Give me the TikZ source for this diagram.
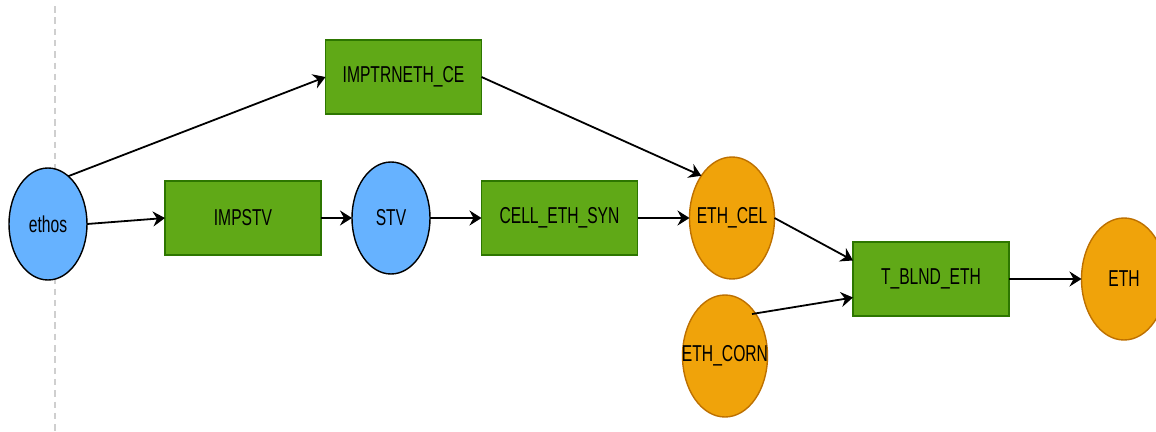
\documentclass[tikz,border=0pt]{standalone}
\usepackage{fontspec}
\setmainfont{Liberation Sans}[FakeStretch=0.68]
\usetikzlibrary{arrows.meta,shapes.geometric,calc}

\definecolor{bluefill}{HTML}{66B2FF}
\definecolor{greenfill}{HTML}{60A917}
\definecolor{greenline}{HTML}{2D7600}
\definecolor{orangefill}{HTML}{F0A30A}
\definecolor{orangeline}{HTML}{BD7000}
\definecolor{guide}{HTML}{CFCFCF}

% ellipse labels take no width, so the ellipse keeps its fixed size
\newcommand{\ovallabel}[1]{\makebox[0pt]{#1}}

\tikzset{
  lbl/.style={font=\fontsize{23}{27}\selectfont, text=black, inner sep=0pt, outer sep=0pt},
  bluenode/.style={lbl, ellipse, draw=black, line width=1.4pt, fill=bluefill,
    minimum width=78pt, minimum height=112pt},
  orangenode/.style={lbl, ellipse, draw=orangeline, line width=1.4pt, fill=orangefill,
    minimum width=85pt, minimum height=122pt},
  procbox/.style={lbl, rectangle, draw=greenline, line width=1.4pt, fill=greenfill,
    minimum width=156pt, minimum height=74pt},
  flow/.style={-{Stealth[length=12pt,width=15pt,inset=4pt]}, line width=1.8pt, black},
  guideline/.style={draw=guide, line width=1.8pt, dash pattern=on 6.5pt off 4.8pt}
}

\begin{document}
\begin{tikzpicture}[x=1pt,y=-1pt]
  \useasboundingbox (0,0) rectangle (1156,431);
  \clip (0,0) rectangle (1156,431);

  % vertical guide
  \coordinate (gtop) at (55,6);
  \coordinate (gbot) at (55,431);
  \draw[guideline] (gtop) -- (gbot);

  % nodes
  \node[bluenode]   (ethos)  at (48,224)    {\ovallabel{ethos}};
  \node[procbox]    (impstv) at (243,218)   {IMPSTV};
  \node[bluenode]   (stv)    at (391,218)   {\ovallabel{STV}};
  \node[procbox]    (cell)   at (559.5,218) {CELL\_ETH\_SYN};
  \node[procbox]    (imptr)  at (403.5,77)  {IMPTRNETH\_CE};
  \node[orangenode] (ethcel) at (732,218)   {\ovallabel{ETH\_CEL}};
  \node[orangenode] (corn)   at (725,356)   {\ovallabel{ETH\_CORN}};
  \node[procbox]    (blnd)   at (931,279)   {T\_BLND\_ETH};
  \node[orangenode] (eth)    at (1124,279)  {\ovallabel{ETH}};

  % connectors
  \draw[flow] (ethos.67) -- (imptr.west);
  \draw[flow] (ethos.east) -- (impstv.west);
  \draw[flow] (impstv.east) -- (stv.west);
  \draw[flow] (stv.east) -- (cell.west);
  \draw[flow] (cell.east) -- (ethcel.west);
  \draw[flow] (imptr.east) -- (ethcel.126);
  \draw[flow] (ethcel.east) -- ($(blnd.north west)!0.5!(blnd.west)$);
  \coordinate (cornout) at ($(corn.center)+(27,-42)$);
  \draw[flow] (cornout) -- ($(blnd.west)!0.5!(blnd.south west)$);
  \draw[flow] (blnd.east) -- (eth.west);
\end{tikzpicture}
\end{document}
